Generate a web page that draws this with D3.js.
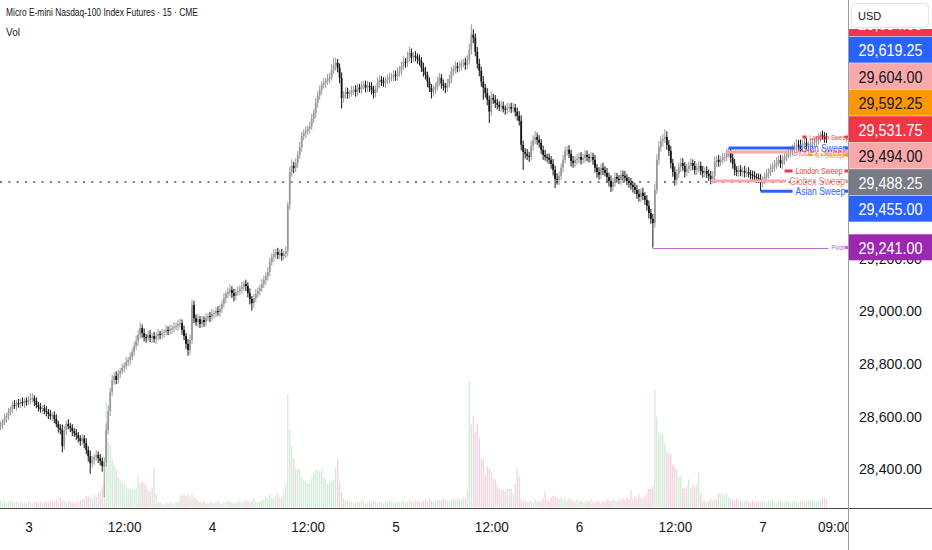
<!DOCTYPE html>
<html>
<head>
<meta charset="utf-8">
<script src="https://cdn.jsdelivr.net/npm/d3@7"></script>
<style>
html, body { margin: 0; padding: 0; background: #fff; overflow: hidden; }
text { font-family: "Liberation Sans", Arial, sans-serif; fill: #131722; }
</style>
</head>
<body>
<div id="chart"></div>
<script>
// 15 minute bars (MNQ, days 3 to 7)
const firstOpen = 28560;
const closes = [
  28567,28578,28593,28601,28616,28628,28643,28639,28650,28647,
  28654,28650,28658,28654,28662,28666,28669,28658,28643,28635,
  28628,28631,28620,28616,28609,28601,28605,28590,28571,28556,
  28548,28487,28548,28571,28563,28556,28544,28536,28529,28517,
  28506,28517,28498,28472,28449,28422,28434,28445,28453,28441,
  28430,28411,28426,28548,28620,28692,28738,28753,28738,28761,
  28772,28784,28791,28806,28814,28825,28844,28867,28886,28909,
  28935,28916,28901,28898,28909,28898,28905,28894,28905,28913,
  28909,28916,28920,28928,28924,28932,28935,28939,28943,28951,
  28954,28928,28905,28875,28852,28890,29023,28973,28958,28969,
  28951,28966,28958,28973,28981,28977,28989,28992,29000,28996,
  29008,29027,29049,29065,29072,29080,29068,29057,29072,29076,
  29084,29091,29103,29095,29068,29046,29030,29049,29065,29076,
  29087,29103,29118,29133,29148,29186,29205,29217,29224,29213,
  29220,29209,29217,29228,29403,29528,29551,29544,29562,29593,
  29623,29665,29676,29684,29692,29703,29730,29752,29790,29818,
  29840,29859,29866,29874,29882,29889,29916,29931,29943,29924,
  29885,29809,29821,29832,29825,29828,29836,29840,29832,29848,
  29844,29855,29859,29848,29855,29851,29840,29828,29844,29866,
  29878,29870,29866,29878,29882,29886,29889,29897,29893,29905,
  29912,29931,29946,29943,29966,29981,29962,29969,29966,29958,
  29950,29924,29909,29897,29871,29848,29832,29840,29851,29871,
  29886,29863,29855,29848,29863,29882,29909,29920,29928,29924,
  29931,29939,29943,29935,29954,29992,30049,30038,29985,29939,
  29912,29871,29848,29828,29802,29757,29810,29802,29790,29783,
  29775,29779,29768,29764,29772,29775,29768,29772,29757,29741,
  29722,29631,29604,29597,29589,29585,29627,29650,29661,29650,
  29639,29612,29593,29585,29582,29574,29559,29536,29502,29498,
  29513,29544,29574,29608,29612,29597,29570,29562,29574,29578,
  29585,29574,29582,29593,29585,29582,29585,29574,29544,29528,
  29517,29544,29536,29525,29509,29494,29471,29490,29509,29502,
  29498,29517,29513,29506,29494,29487,29479,29471,29460,29445,
  29433,29449,29437,29422,29399,29372,29350,29334,29460,29574,
  29623,29646,29654,29661,29631,29608,29562,29528,29498,29521,
  29547,29562,29551,29528,29540,29551,29562,29551,29536,29544,
  29551,29532,29525,29532,29521,29513,29502,29513,29566,29574,
  29566,29574,29582,29585,29597,29608,29582,29559,29536,29528,
  29536,29528,29532,29525,29528,29521,29517,29513,29509,29506,
  29502,29487,29498,29509,29521,29528,29540,29547,29555,29566,
  29574,29559,29574,29585,29593,29601,29608,29616,29623,29631,
  29627,29623,29635,29639,29627,29627,29635,29639,29642,29650,
  29658,29669,29665,29658,29654
];
// upper / lower wick length above / below the body, in points
const wickHi = [
  14,11,18,12,16,9,14,19,11,16,
  12,18,11,14,16,21,18,11,14,12,
  16,11,14,19,12,16,11,14,18,12,
  14,21,16,11,18,12,14,11,16,12,
  11,16,12,18,14,21,16,12,19,14,
  16,14,18,25,21,16,19,14,18,16,
  12,16,14,19,11,18,14,16,21,18,
  22,14,18,12,16,19,11,16,14,18,
  12,16,11,18,14,16,12,19,14,16,
  18,14,16,12,18,21,22,16,14,19,
  12,16,14,18,11,16,19,12,14,18,
  16,14,19,12,18,21,14,16,12,18,
  14,19,12,16,14,18,11,16,19,14,
  12,18,16,14,19,16,14,18,12,16,
  14,16,12,18,11,21,25,16,18,14,
  19,16,14,18,12,16,19,14,18,16,
  16,14,19,12,18,16,21,32,18,14,
  16,21,14,18,16,12,19,14,18,16,
  14,18,12,16,19,14,18,16,12,21,
  16,14,18,12,16,19,14,18,16,19,
  18,16,21,14,19,22,16,14,18,12,
  16,14,19,18,12,16,14,18,16,19,
  18,14,16,12,19,16,18,14,21,16,
  18,16,14,19,18,24,40,21,16,18,
  19,16,21,14,18,16,22,14,18,16,
  14,18,16,12,19,14,16,18,14,16,
  18,21,16,14,18,16,19,18,22,16,
  18,14,16,19,12,16,14,18,16,21,
  18,16,19,16,14,18,16,19,14,18,
  16,18,14,19,16,12,18,16,19,14,
  18,16,19,14,18,16,21,14,18,16,
  14,18,16,19,14,16,18,14,16,19,
  18,16,19,14,18,21,16,19,24,21,
  22,19,18,30,21,18,19,16,21,18,
  16,19,18,14,19,16,18,14,19,16,
  18,16,19,14,18,16,19,18,21,16,
  18,14,19,16,18,12,9,16,18,14,
  16,18,14,19,16,18,14,16,18,14,
  16,18,14,16,19,14,18,16,19,18,
  16,19,18,14,16,18,19,16,18,21,
  18,24,16,19,18,16,19,18,16,14,
  18,12,16,14,18
];
const wickLo = [
  12,16,11,18,14,12,16,11,18,14,
  16,12,18,14,11,16,14,19,12,16,
  14,18,12,16,19,14,18,16,12,18,
  16,24,14,18,12,16,19,14,18,16,
  18,14,19,16,21,40,16,18,14,19,
  16,21,118,18,16,19,14,18,16,14,
  16,12,18,14,16,19,12,16,14,18,
  14,18,16,19,12,16,18,14,19,16,
  16,14,18,12,16,14,19,16,12,18,
  14,18,16,19,22,18,16,19,14,18,
  16,14,18,16,12,19,14,18,16,14,
  18,16,14,19,16,14,18,21,16,14,
  16,18,14,19,16,21,28,18,16,14,
  18,14,16,19,18,16,14,18,19,16,
  16,18,14,16,21,19,18,21,16,18,
  14,18,16,19,16,18,14,16,19,18,
  16,18,14,19,16,18,14,16,19,18,
  21,40,18,16,19,18,14,16,18,14,
  16,19,14,18,16,19,18,21,16,14,
  18,16,14,19,16,18,14,16,19,18,
  16,18,14,19,16,18,21,16,18,19,
  18,16,19,18,21,16,25,18,16,14,
  16,19,18,21,16,14,18,16,19,18,
  16,18,14,19,16,18,19,21,18,19,
  21,19,46,18,21,43,18,16,19,18,
  16,18,14,19,16,18,16,14,19,18,
  18,21,68,18,16,19,14,18,16,19,
  18,16,19,14,18,16,19,21,35,18,
  19,16,18,14,19,16,21,18,16,19,
  16,18,14,19,16,18,16,19,18,21,
  18,16,19,14,18,21,19,16,18,14,
  16,19,18,14,16,19,18,21,16,19,
  18,21,16,19,18,21,19,93,18,16,
  19,18,21,16,18,19,21,18,22,18,
  16,19,18,21,16,18,19,16,18,19,
  18,16,19,18,16,19,21,18,16,19,
  18,16,14,18,16,14,19,18,21,16,
  18,16,19,18,16,14,18,16,19,18,
  16,32,18,16,19,18,16,14,18,16,
  18,16,19,18,16,14,18,16,19,18,
  16,18,19,16,18,14,19,16,18,16,
  18,16,14,19,16
];
// volume, thousands of contracts
const volumes = [
  7,6,7,5,6,7,6,5,6,5,
  5,4,5,4,6,5,4,5,6,5,
  5,4,5,6,5,6,7,6,8,5,
  10,7,6,5,6,7,5,4,6,5,
  7,9,8,11,12,10,9,13,11,14,
  16,21,24,106,66,63,48,42,38,31,
  28,24,24,21,19,19,18,18,19,31,
  24,26,24,22,18,16,20,39,13,6,
  5,4,3,5,4,6,5,4,5,6,
  11,13,12,12,13,11,14,10,9,7,
  6,5,7,5,4,5,6,4,5,7,
  5,4,6,5,7,6,5,4,5,6,
  7,5,6,8,6,5,7,9,6,5,
  6,7,8,11,9,13,10,9,11,14,
  10,9,15,23,113,78,61,49,39,38,
  38,31,28,26,24,24,30,34,38,37,
  36,38,30,28,24,25,26,28,40,49,
  26,15,9,7,6,5,6,4,5,6,
  5,7,6,4,5,6,5,7,6,5,
  6,5,4,6,5,7,6,5,4,6,
  5,6,7,5,6,8,6,5,7,6,
  6,5,7,8,6,9,7,6,8,7,
  8,7,9,8,7,6,8,9,7,8,
  9,8,10,9,18,126,83,91,76,84,
  69,49,49,33,41,39,36,29,28,23,
  19,18,18,16,19,19,19,14,24,39,
  31,8,6,7,5,6,7,5,8,6,
  7,6,9,16,8,7,10,12,11,10,
  9,11,8,10,7,9,8,7,6,8,
  6,7,5,6,7,6,8,6,5,7,
  6,5,7,6,8,7,6,9,7,6,
  8,7,9,8,10,9,18,8,11,9,
  13,10,9,11,14,19,19,21,118,91,
  76,74,73,64,56,54,53,43,41,38,
  31,31,19,19,21,28,19,23,21,23,
  36,14,6,7,5,6,8,7,9,8,
  14,13,14,12,14,10,9,8,7,9,
  6,7,5,6,7,6,5,7,6,5,
  6,5,7,6,5,7,6,8,6,5,
  7,6,5,6,7,6,5,6,7,6,
  5,6,7,5,6,7,6,8,7,6,
  7,8,9,10,8
];

// time axis: bar index of each tick and its label
const timeTickBars = [14, 62, 106, 154, 198, 246, 290, 338, 382, 418];
const timeTickLabels = ["3", "12:00", "4", "12:00", "5", "12:00", "6", "12:00", "7", "09:00"];

// session sweep levels drawn by the indicator
const sweepNames = ["London Sweep", "Asian Sweep", "Globex Sweep", "NY Sweep", "London Sweep", "Globex Sweep", "Asian Sweep", "Pivot"];
const sweepPrices = [29660.75, 29619.25, 29604.00, 29592.25, 29531.75, 29494.00, 29455.00, 29241.00];
const sweepFromBar = [402, 365, 364, 405, 393, 356, 381, 327];
const sweepToBar = [404, 398, 395, 407, 397, 394, 397, 415];

const prevClose = 29488.25;
const titleText = "Micro E-mini Nasdaq-100 Index Futures \u00b7 15 \u00b7 CME";

// ---- styles ----
const W = 932, H = 550;
const plotW = 848, plotH = 508;
const upColor = "#9a9a9a", downColor = "#141414";
const volUp = "#cfe9d4", volDown = "#f3cedc";
const sweepLineColor = ["#f23645", "#2962ff", "#f8a7ab", "#ff9800", "#f23645", "#f8a7ab", "#2962ff", "#bb6bd0"];
const sweepTextColor = ["#f23645", "#2962ff", "#f0757d", "#ff9800", "#f23645", "#f0757d", "#2962ff", "#b35cc8"];
const sweepLineW = [3, 3, 3, 2, 3, 3, 3, 1];
const sweepFont = [8, 11.5, 11.5, 8, 9.5, 11.5, 11.5, 7.5];

function squeeze(sel, f) {
    sel.each(function () {
        const w = this.getComputedTextLength();
        this.setAttribute("textLength", w * f);
        this.setAttribute("lengthAdjust", "spacingAndGlyphs");
    });
}

const bars = closes.map((c, i) => {
    const o = i === 0 ? firstOpen : closes[i - 1];
    return { i, o, c, h: Math.max(o, c) + wickHi[i], l: Math.min(o, c) - wickLo[i], v: volumes[i] };
});

const x = d3.scaleLinear().domain([14, 382]).range([28.4, 762.6]);
const y = d3.scaleLinear().domain([28252, 30181]).range([plotH, 0]);
const yVol = d3.scaleLinear().domain([0, 126]).range([plotH - 0.5, plotH - 126.5]);
const crisp = v => Math.round(v) + 0.5;

const svg = d3.select("#chart").append("svg")
    .attr("width", W)
    .attr("height", H)
    .style("display", "block");

const defs = svg.append("defs");
defs.append("clipPath").attr("id", "plotClip")
    .append("rect").attr("x", 0).attr("y", 0).attr("width", plotW).attr("height", plotH);
defs.append("clipPath").attr("id", "timeClip")
    .append("rect").attr("x", 0).attr("y", 0).attr("width", plotW).attr("height", H - plotH);

const plot = svg.append("g").attr("clip-path", "url(#plotClip)");

// volume
plot.append("g").selectAll("rect")
    .data(bars)
    .join("rect")
    .attr("x", d => x(d.i) - 0.6)
    .attr("width", 1.2)
    .attr("y", d => yVol(d.v))
    .attr("height", d => yVol(0) - yVol(d.v))
    .attr("fill", d => d.c >= d.o ? volUp : volDown);

// previous close dotted line
plot.append("line")
    .attr("x1", 0).attr("x2", plotW)
    .attr("y1", Math.round(y(prevClose))).attr("y2", Math.round(y(prevClose)))
    .attr("stroke", "#787b86")
    .attr("stroke-width", 2)
    .attr("stroke-dasharray", "2,6.3");

// candles
const candle = plot.append("g").selectAll("g")
    .data(bars)
    .join("g");
candle.append("line")
    .attr("x1", d => x(d.i)).attr("x2", d => x(d.i))
    .attr("y1", d => y(d.h)).attr("y2", d => y(d.l))
    .attr("stroke", d => d.c >= d.o ? upColor : downColor)
    .attr("stroke-width", 1);
candle.append("rect")
    .attr("x", d => x(d.i) - 0.9)
    .attr("width", 1.8)
    .attr("y", d => y(Math.max(d.o, d.c)))
    .attr("height", d => Math.max(1, Math.abs(y(d.o) - y(d.c))))
    .attr("fill", d => d.c >= d.o ? upColor : downColor);

// sweep levels
const sweep = plot.append("g").selectAll("g")
    .data(sweepPrices.map((p, k) => ({ k, p })))
    .join("g");
sweep.append("line")
    .attr("x1", d => x(sweepFromBar[d.k])).attr("x2", d => x(sweepToBar[d.k]))
    .attr("y1", d => sweepLineW[d.k] === 1 ? crisp(y(d.p)) : y(d.p))
    .attr("y2", d => sweepLineW[d.k] === 1 ? crisp(y(d.p)) : y(d.p))
    .attr("stroke", d => sweepLineColor[d.k])
    .attr("stroke-width", d => sweepLineW[d.k]);
const sweepText = sweep.append("text")
    .attr("x", d => x(sweepToBar[d.k]) + 3)
    .attr("y", d => y(d.p))
    .attr("dy", "0.35em")
    .style("font-size", d => sweepFont[d.k] + "px")
    .style("fill", d => sweepTextColor[d.k])
    .text(d => sweepNames[d.k]);
squeeze(sweepText, 0.74);
sweep.append("rect")
    .attr("x", 844.5).attr("width", 3.5)
    .attr("y", d => y(d.p) - 1.5).attr("height", 3)
    .attr("fill", d => sweepLineColor[d.k]);

// legend
const title = svg.append("text").attr("x", 6).attr("y", 16)
    .style("font-size", "11px").text(titleText);
squeeze(title, 192 / title.node().getComputedTextLength());
svg.append("text").attr("x", 6).attr("y", 36).style("font-size", "11px")
    .attr("textLength", 14).attr("lengthAdjust", "spacingAndGlyphs").text("Vol");

// axes backgrounds
svg.append("rect").attr("x", plotW).attr("y", 0).attr("width", W - plotW).attr("height", H).attr("fill", "#fff");
svg.append("rect").attr("x", 0).attr("y", plotH).attr("width", plotW).attr("height", H - plotH).attr("fill", "#fff");

// price axis
const yAxis = svg.append("g")
    .attr("transform", `translate(${plotW},0)`)
    .call(d3.axisRight(y).ticks(10).tickSize(0).tickPadding(11).tickFormat(d3.format(",.2f")));
yAxis.select(".domain").remove();
yAxis.selectAll("text")
    .style("font-size", "15.5px")
    .style("fill", "#131722")
    .attr("textLength", 63)
    .attr("lengthAdjust", "spacingAndGlyphs");

// time axis
const xAxis = svg.append("g")
    .attr("transform", `translate(0,${plotH})`)
    .attr("clip-path", "url(#timeClip)")
    .call(d3.axisBottom(x).tickValues(timeTickBars).tickSize(0).tickPadding(13)
        .tickFormat((d, k) => timeTickLabels[k]));
xAxis.select(".domain").remove();
xAxis.selectAll("text").style("font-size", "15px").style("fill", "#131722");
squeeze(xAxis.selectAll("text"), 0.9);

// price labels on the scale, stacked so they don't overlap
const lastBar = bars[bars.length - 1];
const tagPrices = [lastBar.c, 29619.25, 29604.00, 29592.25, 29531.75, 29494.00, prevClose, 29455.00, 29241.00];
const tagFill = [lastBar.c >= lastBar.o ? "#089981" : "#f23645", "#2962ff", "#f9a9a9", "#ff9800", "#f23645", "#f9a9a9", "#787b86", "#2962ff", "#9c27b0"];
const tagText = ["#fff", "#fff", "#131722", "#131722", "#fff", "#131722", "#fff", "#fff", "#fff"];
const tagH = 26.5;
const anchor = tagPrices.indexOf(prevClose);
const centers = tagPrices.map(p => y(p));
for (let k = anchor - 1; k >= 0; k--) centers[k] = Math.min(centers[k], centers[k + 1] - tagH);
for (let k = anchor + 1; k < tagPrices.length; k++) centers[k] = Math.max(centers[k], centers[k - 1] + tagH);

const tags = svg.append("g").selectAll("g")
    .data(tagPrices.map((p, k) => ({ k, p })))
    .join("g");
tags.append("rect")
    .attr("x", plotW + 1).attr("width", W - plotW - 1)
    .attr("y", d => centers[d.k] - tagH / 2).attr("height", tagH - 0.5)
    .attr("fill", d => tagFill[d.k]);
tags.append("text")
    .attr("x", 890.5)
    .attr("y", d => centers[d.k])
    .attr("dy", "0.36em")
    .attr("text-anchor", "middle")
    .style("font-size", "17px")
    .style("fill", d => tagText[d.k])
    .attr("textLength", 64)
    .attr("lengthAdjust", "spacingAndGlyphs")
    .text(d => d3.format(",.2f")(d.p));

// currency box
svg.append("rect").attr("x", plotW).attr("y", 0).attr("width", W - plotW).attr("height", 29).attr("fill", "#fff");
svg.append("rect").attr("x", 851.5).attr("y", 3.5).attr("width", 77).attr("height", 24).attr("rx", 4)
    .attr("fill", "#fff").attr("stroke", "#e0e3eb");
svg.append("text").attr("x", 858).attr("y", 20).style("font-size", "11px").text("USD");

// axis borders
svg.append("line").attr("x1", 0).attr("x2", W).attr("y1", plotH + 0.5).attr("y2", plotH + 0.5)
    .attr("stroke", "#4a4a4a").attr("stroke-width", 1);
svg.append("line").attr("x1", plotW + 0.5).attr("x2", plotW + 0.5).attr("y1", 0).attr("y2", H)
    .attr("stroke", "#9a9da6").attr("stroke-width", 1);
</script>
</body>
</html>
